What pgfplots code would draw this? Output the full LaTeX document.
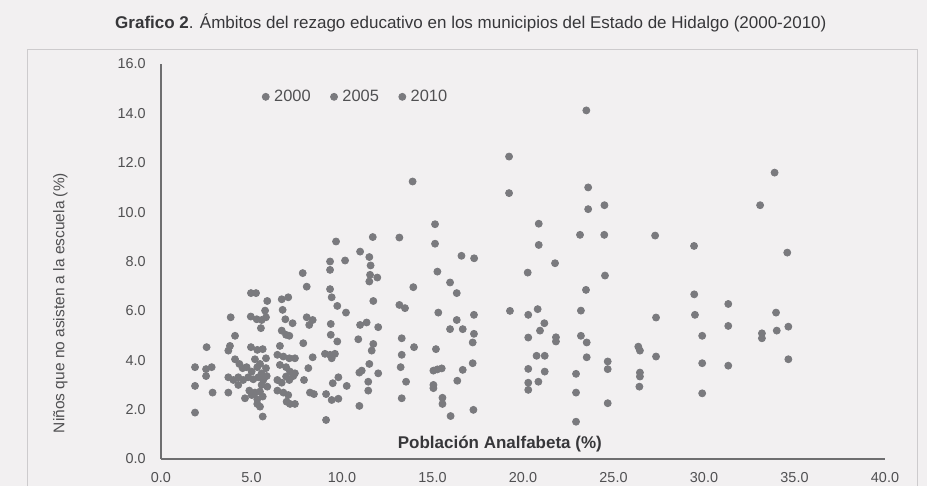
\documentclass[border=0pt]{standalone}
\usepackage{fontspec}
\setmainfont{Liberation Sans}
\usepackage{pgfplots}
\pgfplotsset{compat=1.18}
\usepackage{pgfplotstable}
\definecolor{markgray}{RGB}{122,122,126}
\definecolor{txtgray}{RGB}{80,80,82}
\definecolor{titlegray}{RGB}{55,55,58}
\definecolor{axgray}{RGB}{110,110,112}
\definecolor{bggray}{RGB}{242,240,241}
\definecolor{framegray}{RGB}{205,203,205}

\pgfplotstableread{
x y
7.83 7.53
8.05 6.98
4.97 6.72
5.25 6.72
5.87 6.40
6.67 6.47
7.03 6.55
5.75 6.01
3.85 5.74
4.96 5.77
5.29 5.66
5.56 5.63
5.80 5.74
6.72 6.04
6.87 5.66
7.27 5.50
8.05 5.74
8.38 5.63
8.19 5.43
5.52 5.30
6.67 5.20
6.91 5.03
7.09 4.99
4.09 4.99
3.81 4.58
3.72 4.39
2.52 4.53
4.97 4.53
5.32 4.42
5.62 4.45
6.57 4.58
7.86 4.69
4.09 4.04
4.33 3.85
4.51 3.68
5.19 4.04
5.47 3.85
5.80 4.08
6.43 4.22
6.76 4.15
7.09 4.08
7.40 4.08
8.38 4.12
1.88 3.72
2.49 3.64
2.80 3.72
2.49 3.36
4.73 3.72
5.01 3.54
5.32 3.72
5.56 3.47
5.80 3.68
6.57 3.81
6.91 3.72
7.13 3.54
7.40 3.47
8.14 3.68
3.72 3.31
4.00 3.20
4.27 3.31
4.54 3.20
4.82 3.31
5.10 3.23
5.38 3.31
5.65 3.20
5.84 3.36
5.56 3.00
5.87 2.93
6.43 3.20
6.67 3.09
6.91 3.34
7.09 3.20
7.31 3.36
7.90 3.20
1.88 2.96
4.27 3.00
2.85 2.69
3.72 2.69
4.88 2.77
5.19 2.69
5.47 2.73
6.43 2.77
6.76 2.69
7.03 2.59
8.23 2.69
8.45 2.63
4.64 2.46
5.01 2.59
5.32 2.42
5.62 2.53
5.32 2.23
5.47 2.12
6.94 2.32
7.13 2.23
7.40 2.23
1.88 1.88
5.62 1.72
}\dataA

\pgfplotstableread{
x y
13.90 11.24
15.14 9.51
15.14 8.72
9.67 8.81
11.70 8.99
13.17 8.97
9.34 8.00
9.34 7.66
10.17 8.04
11.00 8.40
11.51 8.18
11.58 7.84
11.55 7.46
11.95 7.35
11.51 7.19
16.60 8.23
17.30 8.13
15.27 7.59
9.34 6.88
9.43 6.55
13.94 6.96
15.97 7.15
16.34 6.72
9.74 6.20
10.22 5.93
11.73 6.40
13.17 6.24
13.48 6.11
15.32 5.93
17.29 5.84
9.38 5.47
11.00 5.43
11.36 5.53
12.00 5.34
16.34 5.63
15.97 5.26
16.67 5.26
17.29 5.07
9.38 5.03
9.74 4.76
10.90 4.85
11.73 4.66
11.64 4.39
13.30 4.89
13.98 4.53
15.19 4.45
17.22 4.72
9.06 4.26
9.34 4.22
9.61 4.26
9.43 4.08
13.30 4.22
11.51 3.85
13.24 3.72
17.22 3.88
10.96 3.50
11.09 3.58
12.00 3.47
15.05 3.58
15.27 3.63
15.51 3.67
16.67 3.61
9.80 3.31
13.54 3.13
16.37 3.17
9.49 3.07
10.26 2.96
11.45 3.13
11.45 2.77
15.05 3.00
15.05 2.87
9.12 2.63
9.43 2.39
9.80 2.44
13.30 2.46
15.55 2.48
15.55 2.23
10.96 2.15
17.26 1.99
9.12 1.58
16.00 1.74
}\dataB

\pgfplotstableread{
x y
23.50 14.12
19.23 12.25
19.23 10.77
23.60 11.00
23.60 10.12
24.50 10.28
33.90 11.60
33.10 10.28
20.87 9.53
20.87 8.67
23.15 9.08
24.49 9.08
27.30 9.05
29.45 8.63
34.60 8.36
20.26 7.55
21.77 7.93
24.53 7.43
23.48 6.85
29.46 6.67
31.34 6.28
19.28 6.00
20.29 5.84
20.81 6.07
23.20 6.01
27.35 5.73
29.50 5.84
33.98 5.93
21.18 5.50
20.94 5.20
31.34 5.39
34.66 5.36
34.02 5.20
20.29 4.92
21.82 4.93
21.82 4.76
23.20 4.99
23.52 4.72
29.90 4.99
33.20 5.09
33.20 4.89
26.37 4.55
26.46 4.39
20.75 4.18
21.20 4.18
23.52 4.12
27.35 4.15
34.66 4.04
24.68 3.95
24.68 3.64
29.90 3.88
31.34 3.78
20.29 3.65
21.20 3.54
22.93 3.45
26.46 3.50
26.46 3.34
20.29 3.09
20.29 2.80
20.85 3.13
26.43 2.93
22.93 2.69
29.90 2.66
24.68 2.26
22.93 1.51
}\dataC

\begin{document}
\begin{tikzpicture}
\fill[bggray] (0,0) rectangle (463.5pt,243pt);
\useasboundingbox (0,0) rectangle (463.5pt,243pt);
\draw[framegray, line width=0.5pt] (13.5pt,0) -- (13.5pt,218pt) -- (458.5pt,218pt) -- (458.5pt,0);
\begin{axis}[
  at={(80.5pt,13.5pt)}, anchor=south west,
  scale only axis, width=362pt, height=197.5pt,
  xmin=0, xmax=40, ymin=0, ymax=16,
  axis x line=bottom, axis y line=left,
  axis line style={-, draw=axgray, line width=0.75pt},
  major tick length=0pt, tick style={draw=none},
  xtick={0,5,10,15,20,25,30,35,40},
  xticklabels={0.0,5.0,10.0,15.0,20.0,25.0,30.0,35.0,40.0},
  ytick={0,2,4,6,8,10,12,14,16},
  yticklabels={0.0,2.0,4.0,6.0,8.0,10.0,12.0,14.0,16.0},
  xticklabel style={anchor=center, yshift=-9.5pt, font=\fontsize{7.2}{8}\selectfont, text=txtgray},
  yticklabel style={anchor=east, inner sep=0pt, xshift=-7.5pt, font=\fontsize{7.2}{8}\selectfont, text=txtgray},
  title={\textbf{Grafico 2}. Ámbitos del rezago educativo en los municipios del Estado de Hidalgo (2000-2010)},
  every axis title/.style={at={(axis description cs:0.428,1.104)}, anchor=center, inner sep=0pt, font=\fontsize{8.5}{10}\selectfont, text=titlegray},
  xlabel={\textbf{Población Analfabeta (\%)}},
  every axis x label/.style={at={(axis description cs:0.468,0.038)}, anchor=center, inner sep=0pt, font=\fontsize{8.5}{10}\selectfont, text=titlegray},
  ylabel={Niños que no asisten a la escuela (\%)},
  every axis y label/.style={at={(axis description cs:-0.139,0.395)}, rotate=90, anchor=center, inner sep=0pt, font=\fontsize{7.75}{9}\selectfont, text=txtgray},
  legend style={at={(axis cs:5.55,14.67)}, anchor=west, draw=none, fill=none, inner sep=0pt,
    legend columns=3, font=\fontsize{8.2}{9}\selectfont, text=txtgray,
    nodes={inner sep=0pt},
    /tikz/every odd column/.append style={column sep=2.25pt},
    /tikz/every even column/.append style={column sep=9.75pt}},
  legend image code/.code={\fill[markgray] (0pt,0pt) circle (1.75pt);},
  clip=false,
]
\addplot[only marks, mark=*, mark size=1.75pt, color=markgray, mark options={draw=none, fill=markgray}] table[x=x,y=y] {\dataA};
\addlegendentry{2000}
\addplot[only marks, mark=*, mark size=1.75pt, color=markgray, mark options={draw=none, fill=markgray}] table[x=x,y=y] {\dataB};
\addlegendentry{2005}
\addplot[only marks, mark=*, mark size=1.75pt, color=markgray, mark options={draw=none, fill=markgray}] table[x=x,y=y] {\dataC};
\addlegendentry{2010}
\end{axis}
\end{tikzpicture}
\end{document}
